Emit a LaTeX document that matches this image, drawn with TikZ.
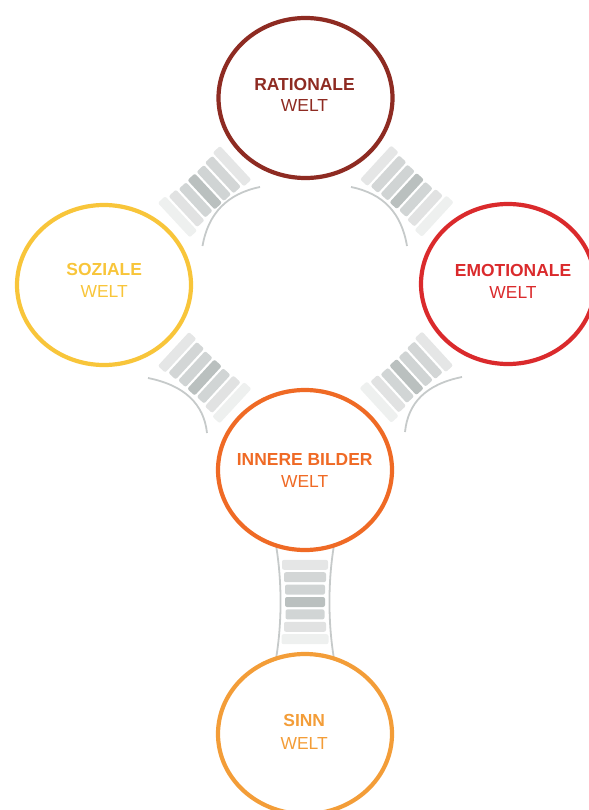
\documentclass[tikz,border=0pt]{standalone}
\usepackage{fontspec}
\setmainfont{Liberation Sans}
\usetikzlibrary{shapes.geometric,calc}
\definecolor{cRat}{HTML}{8E2B22}
\definecolor{cSoz}{HTML}{F8C53A}
\definecolor{cEmo}{HTML}{DA2A2C}
\definecolor{cInn}{HTML}{EF6A25}
\definecolor{cSinn}{HTML}{F39D38}
\definecolor{barA}{HTML}{E5E6E6}
\definecolor{barB}{HTML}{D3D6D6}
\definecolor{barC}{HTML}{D0D4D4}
\definecolor{barD}{HTML}{BAC0BF}
\definecolor{barE}{HTML}{D1D5D5}
\definecolor{barF}{HTML}{E1E2E2}
\definecolor{barG}{HTML}{EEF0EF}
\definecolor{lineG}{HTML}{C6CACA}
\tikzset{
  world/.style={ellipse, line width=4.2bp, minimum width=174bp, minimum height=160bp, inner sep=0pt, outer sep=0pt},
  bar/.style={rectangle, sloped, inner sep=0pt, outer sep=0pt, minimum width=10bp, rounded corners=2bp},
  tline/.style={draw=lineG, line width=1.8bp},
  lblB/.style={anchor=base, inner sep=0pt, font=\fontsize{17.5}{20}\selectfont\bfseries},
  lblR/.style={anchor=base, inner sep=0pt, font=\fontsize{17.5}{20}\selectfont},
}
\newcommand\mybridge[2]{%
  \coordinate (m) at ($(#1)!.5!(#2)$);
  \coordinate (ba) at ($(m)!-37.2bp!(#2)$);
  \coordinate (bb) at ($(m)!37.2bp!(#2)$);
  \foreach \i/\c/\w in {0/barA/46,1/barB/42,2/barC/40,3/barD/40,4/barE/39,5/barF/42,6/barG/47}{
    \pgfmathsetmacro\pp{\i/6}
    \path (ba) -- (bb) node[bar, pos=\pp, fill=\c, minimum height=\w bp] {};
  }%
}
\begin{document}
\begin{tikzpicture}[x=1bp,y=-1bp]
\useasboundingbox (0,0) rectangle (589,810);
% circle nodes
\node[world] (rat)  at (305.5,98) {};
\node[world] (soz)  at (104,285) {};
\node[world] (emo)  at (508,284) {};
\node[world] (inn)  at (305,470) {};
\node[world] (sinn) at (305,734) {};
% bridges
\mybridge{rat}{soz}
\mybridge{rat}{emo}
\mybridge{soz}{inn}
\mybridge{emo}{inn}
\mybridge{inn}{sinn}
% arcs
\coordinate (a1s) at (260,187);   \coordinate (a1e) at (202.5,246);
\coordinate (a2s) at (351,187);   \coordinate (a2e) at (407,246);
\coordinate (a3s) at (148,378);   \coordinate (a3e) at (207,433);
\coordinate (a4s) at (462,377);   \coordinate (a4e) at (405,432);
\draw[tline] (a1s) .. controls (227.3,193.7) and (208.2,213.3) .. (a1e);
\draw[tline] (a2s) .. controls (383.7,193.7) and (401.5,213.3) .. (a2e);
\draw[tline] (a3s) .. controls (184.2,385.3) and (203.9,403.7) .. (a3e);
\draw[tline] (a4s) .. controls (426,384.3) and (408,402.7) .. (a4e);
\draw[tline] (inn.249) .. controls +(6,36) and +(6,-36) .. (sinn.111);
\draw[tline] (inn.291) .. controls +(-6,36) and +(-6,-36) .. (sinn.69);
% circles
\foreach \n/\c in {rat/cRat,soz/cSoz,emo/cEmo,inn/cInn,sinn/cSinn}
  \draw[\c, line width=4.2bp] (\n) ellipse [x radius=87bp, y radius=80bp];
% labels
\node[lblB, text=cRat]  (ratA)  at (304.5,90)   {RATIONALE};
\node[lblR, text=cRat]  (ratB)  at (304.5,111.7){WELT};
\node[lblB, text=cSoz]  (sozA)  at (104.2,275.7){SOZIALE};
\node[lblR, text=cSoz]  (sozB)  at (104.2,297.3){WELT};
\node[lblB, text=cEmo]  (emoA)  at (513,276)    {EMOTIONALE};
\node[lblR, text=cEmo]  (emoB)  at (513,298.3)  {WELT};
\node[lblB, text=cInn]  (innA)  at (304.7,465)  {INNERE BILDER};
\node[lblR, text=cInn]  (innB)  at (304.7,487.3){WELT};
\node[lblB, text=cSinn] (sinnA) at (304.2,726.7){SINN};
\node[lblR, text=cSinn] (sinnB) at (304.2,749)  {WELT};
\end{tikzpicture}
\end{document}
